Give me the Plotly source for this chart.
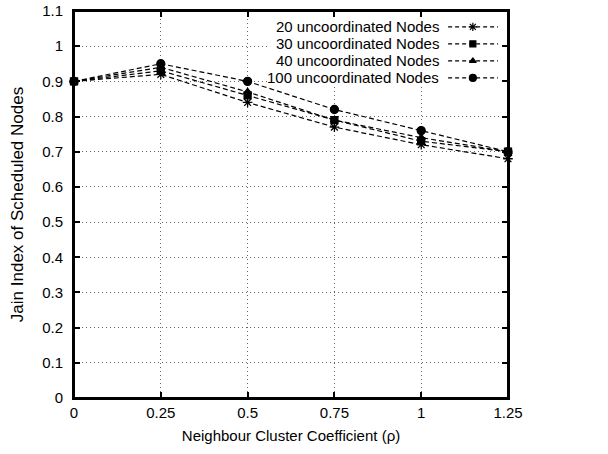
import plotly.graph_objects as go

rho = [0, 0.25, 0.5, 0.75, 1.0, 1.25]
series_names = ["20 uncoordinated Nodes", "30 uncoordinated Nodes",
                "40 uncoordinated Nodes", "100 uncoordinated Nodes"]
jain_20 = [0.90, 0.92, 0.84, 0.77, 0.72, 0.68]
jain_30 = [0.90, 0.93, 0.86, 0.79, 0.73, 0.70]
jain_40 = [0.90, 0.94, 0.87, 0.79, 0.74, 0.70]
jain_100 = [0.90, 0.95, 0.90, 0.82, 0.76, 0.70]
x_ticks = [0, 0.25, 0.5, 0.75, 1, 1.25]
x_tick_text = ["0", "0.25", "0.5", "0.75", "1", "1.25"]
y_ticks = [0, 0.1, 0.2, 0.3, 0.4, 0.5, 0.6, 0.7, 0.8, 0.9, 1.0, 1.1]
y_tick_text = ["0", "0.1", "0.2", "0.3", "0.4", "0.5", "0.6", "0.7", "0.8", "0.9", "1", "1.1"]

all_series = [jain_20, jain_30, jain_40, jain_100]
symbols = ["asterisk-open", "square", "triangle-up", "circle"]
sizes = [8, 7, 7, 8]

FONT = "Liberation Sans, Arial, Helvetica, sans-serif"
DASH = "5px,3px"
X_MAX, Y_MAX = 1.25, 1.1
fig = go.Figure()

for name, ys, sym, sz in zip(series_names, all_series, symbols, sizes):
    fig.add_trace(go.Scatter(
        x=rho, y=ys, mode="lines+markers", name=name,
        line=dict(color="black", width=1.2, dash=DASH),
        marker=dict(symbol=sym, size=sz, color="black",
                    line=dict(color="black", width=1.3)),
        showlegend=False, cliponaxis=False,
    ))

# white key background (hides the grid behind the key), on overlay axes
bx0, bx1, by0, by1 = 0.565, 1.245, 0.885, 1.097
fig.add_trace(go.Scatter(
    x=[bx0, bx1, bx1, bx0, bx0], y=[by0, by0, by1, by1, by0],
    mode="lines", fill="toself", fillcolor="white", line=dict(width=0, color="white"),
    xaxis="x2", yaxis="y2", showlegend=False, hoverinfo="skip"))

# key (text on left, sample on right)
row_y = [0.959, 0.915, 0.871, 0.827]
for i, (name, sym, sz) in enumerate(zip(series_names, symbols, sizes)):
    ly = row_y[i] * Y_MAX
    fig.add_trace(go.Scatter(
        x=[0.862 * X_MAX, 0.977 * X_MAX], y=[ly, ly], mode="lines",
        line=dict(color="black", width=1.2, dash="4px,3px"),
        xaxis="x2", yaxis="y2", showlegend=False, hoverinfo="skip"))
    fig.add_trace(go.Scatter(
        x=[0.919 * X_MAX], y=[ly], mode="markers",
        marker=dict(symbol=sym, size=sz - 1, color="black",
                    line=dict(color="black", width=1.2)),
        xaxis="x2", yaxis="y2", showlegend=False, hoverinfo="skip"))
    fig.add_annotation(x=0.845 * X_MAX, y=ly, xref="x2", yref="y2",
                       text=name, showarrow=False, xanchor="right",
                       yanchor="middle", font=dict(size=15, color="black", family=FONT))

# plot frame
fig.add_shape(type="rect", xref="x domain", yref="y domain", x0=0, x1=1, y0=0, y1=1,
              line=dict(color="black", width=2), fillcolor="rgba(0,0,0,0)", layer="above")

axis_common = dict(
    showline=True, linecolor="black", linewidth=2, mirror="allticks",
    ticks="inside", ticklen=6, tickwidth=2, tickcolor="black",
    showgrid=True, gridcolor="#666666", gridwidth=1, griddash="1px,3px",
    zeroline=False, tickfont=dict(size=15, color="black", family=FONT),
    automargin=False,
)

fig.update_layout(
    width=608, height=454,
    margin=dict(l=74, r=100, t=11, b=56),
    paper_bgcolor="white", plot_bgcolor="white",
    font=dict(family=FONT, color="black", size=15),
    xaxis=dict(range=[0, X_MAX], tickvals=x_ticks, ticktext=x_tick_text,
               title=dict(text="Neighbour Cluster Coefficient (ρ)", standoff=10,
                          font=dict(size=15, color="black", family=FONT)),
               **axis_common),
    yaxis=dict(range=[0, Y_MAX], tickvals=y_ticks, ticktext=y_tick_text,
               ticklabelstandoff=6,
               title=dict(text="Jain Index of Scheduled Nodes", standoff=14,
                          font=dict(size=17, color="black", family=FONT)),
               **axis_common),
    xaxis2=dict(overlaying="x", range=[0, X_MAX], visible=False, fixedrange=True),
    yaxis2=dict(overlaying="y", range=[0, Y_MAX], visible=False, fixedrange=True),
)

fig.write_html("out.html")
